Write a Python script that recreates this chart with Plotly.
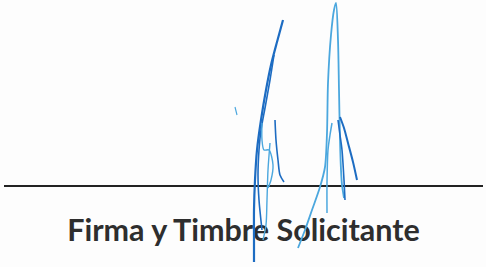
import plotly.graph_objects as go

# Signature line and caption
rule_x = [4, 483]
rule_y = [186, 186]
caption = "Firma y Timbre Solicitante"

# Signature strokes (pixel coordinates)
stroke_a1_x = [283, 277, 271, 266, 261, 257, 255, 254, 254, 254]
stroke_a1_y = [20, 42, 65, 90, 120, 150, 180, 210, 240, 262]
stroke_a2_x = [274, 270, 265, 261, 259, 258, 259, 262]
stroke_a2_y = [55, 80, 108, 130, 150, 175, 200, 230]
stroke_a3_x = [262, 262, 264, 269, 273, 271, 268]
stroke_a3_y = [123, 140, 150, 150, 165, 180, 188]
stroke_a4_x = [275, 276, 278, 280, 284]
stroke_a4_y = [120, 140, 160, 175, 182]
stroke_a5_x = [270, 268, 267, 266, 263]
stroke_a5_y = [143, 170, 200, 225, 240]
stroke_b_x = [298, 305, 312, 320, 325, 327, 328, 331, 334, 336, 338, 339, 340, 341, 342, 344]
stroke_b_y = [248, 230, 210, 187, 167, 133, 83, 35, 10, 3, 40, 90, 140, 170, 185, 198]
stroke_c1_x = [340, 344, 348, 353, 357]
stroke_c1_y = [117, 128, 143, 162, 180]
stroke_c2_x = [338, 340, 342, 344, 345]
stroke_c2_y = [120, 135, 150, 180, 200]
stroke_d_x = [332, 330, 328, 327, 327]
stroke_d_y = [123, 135, 150, 183, 213]
tick_x = [235, 237]
tick_y = [107, 115]

dark_blue = "#1d6cc2"
light_blue = "#4ba7de"

strokes = [
    (stroke_a1_x, stroke_a1_y, dark_blue, 2.2),
    (stroke_a2_x, stroke_a2_y, dark_blue, 1.6),
    (stroke_a3_x, stroke_a3_y, light_blue, 1.4),
    (stroke_a4_x, stroke_a4_y, dark_blue, 1.6),
    (stroke_a5_x, stroke_a5_y, light_blue, 1.4),
    (stroke_b_x, stroke_b_y, light_blue, 1.8),
    (stroke_c1_x, stroke_c1_y, dark_blue, 2.0),
    (stroke_c2_x, stroke_c2_y, dark_blue, 1.6),
    (stroke_d_x, stroke_d_y, light_blue, 1.5),
    (tick_x, tick_y, light_blue, 1.2),
]

fig = go.Figure()

fig.add_trace(go.Scatter(x=rule_x, y=rule_y, mode="lines",
                         line=dict(color="#222222", width=2), hoverinfo="skip"))

fig.add_trace(go.Scatter(x=[243.5], y=[233], mode="text", text=[caption],
                         textfont=dict(family="Lato", size=30.5, color="#2e2e2e", weight="bold"),
                         hoverinfo="skip"))

for sx, sy, col, w in strokes:
    fig.add_trace(go.Scatter(x=sx, y=sy, mode="lines",
                             line=dict(color=col, width=w, shape="spline", smoothing=0.8),
                             hoverinfo="skip"))

fig.update_layout(
    width=486, height=267,
    margin=dict(l=0, r=0, t=0, b=0),
    paper_bgcolor="#fdfdfd", plot_bgcolor="#fdfdfd",
    showlegend=False,
    xaxis=dict(range=[0, 486], visible=False, fixedrange=True),
    yaxis=dict(range=[267, 0], visible=False, fixedrange=True),
)

fig.write_html("out.html", config={"displayModeBar": False},
               post_script="document.body.style.margin='0';")
